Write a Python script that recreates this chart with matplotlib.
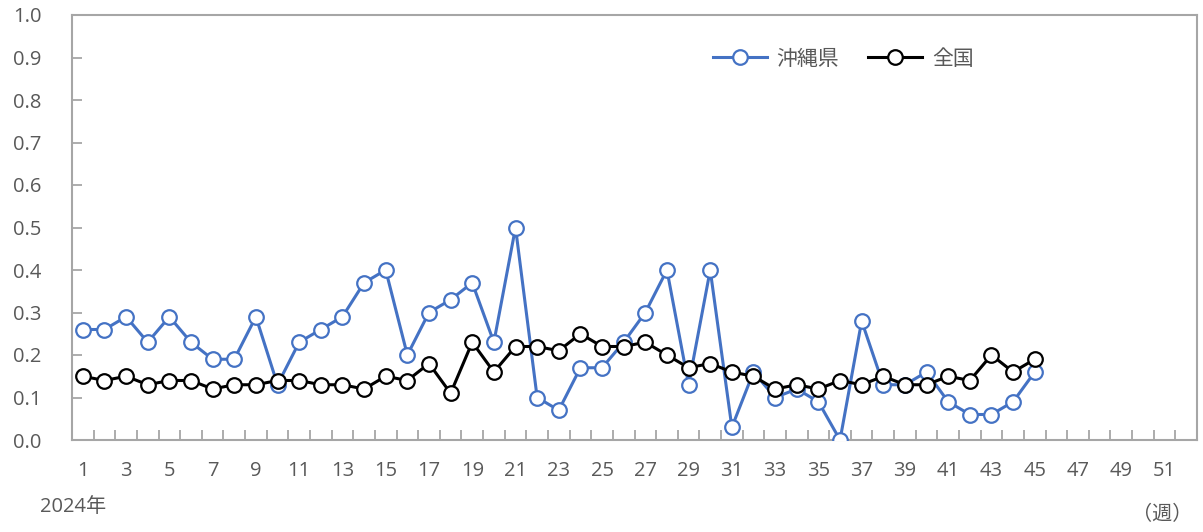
import matplotlib
matplotlib.use('Agg')
import matplotlib.pyplot as plt
from matplotlib.ticker import FixedLocator

plt.rcParams['font.family'] = ['Open Sans', 'Noto Sans CJK JP', 'DejaVu Sans']

weeks = list(range(1, 46))
okinawa = [0.26, 0.26, 0.29, 0.23, 0.29, 0.23, 0.19, 0.19, 0.29, 0.13,
           0.23, 0.26, 0.29, 0.37, 0.40, 0.20, 0.30, 0.33, 0.37, 0.23,
           0.50, 0.10, 0.07, 0.17, 0.17, 0.23, 0.30, 0.40, 0.13, 0.40,
           0.03, 0.16, 0.10, 0.12, 0.09, 0.00, 0.28, 0.13, 0.13, 0.16,
           0.09, 0.06, 0.06, 0.09, 0.16]
national = [0.15, 0.14, 0.15, 0.13, 0.14, 0.14, 0.12, 0.13, 0.13, 0.14,
            0.14, 0.13, 0.13, 0.12, 0.15, 0.14, 0.18, 0.11, 0.23, 0.16,
            0.22, 0.22, 0.21, 0.25, 0.22, 0.22, 0.23, 0.20, 0.17, 0.18,
            0.16, 0.15, 0.12, 0.13, 0.12, 0.14, 0.13, 0.15, 0.13, 0.13,
            0.15, 0.14, 0.20, 0.16, 0.19]
tick_weeks = list(range(1, 53, 2))
y_ticks = [i / 10 for i in range(11)]

grey = '#A6A6A6'
txt = '#595959'

fig = plt.figure(figsize=(12.03, 5.32), dpi=100)
ax = fig.add_axes([72/1203, 1 - 440/532, 1125/1203, 425/532])

ax.plot(weeks, okinawa, color='#4472C4', lw=2.2, marker='o', ms=10.5,
        mfc='white', mec='#4472C4', mew=1.6, label='沖縄県', zorder=3)
ax.plot(weeks, national, color='black', lw=2.2, marker='o', ms=10.5,
        mfc='white', mec='black', mew=1.6, label='全国', zorder=4)

ax.set_xlim(0.5, 52.5)
ax.set_ylim(0, 1.0)
ax.yaxis.set_major_locator(FixedLocator(y_ticks))
ax.set_yticklabels([f'{v:.1f}' for v in y_ticks])
ax.xaxis.set_major_locator(FixedLocator(tick_weeks))
ax.set_xticklabels([str(w) for w in tick_weeks])
ax.xaxis.set_minor_locator(FixedLocator([w + 0.5 for w in range(0, 53)]))

for s in ax.spines.values():
    s.set_color(grey)
    s.set_linewidth(1.5)

ax.tick_params(axis='x', which='major', length=0, pad=15, labelsize=14.5, labelcolor=txt)
ax.tick_params(axis='x', which='minor', direction='in', length=7, width=1.3, color=grey)
ax.tick_params(axis='y', which='major', direction='in', length=7, width=1.3, color=grey,
               pad=22, labelsize=14.5, labelcolor=txt)

fig.text(40/1203, 1 - 507/532, '2024年', fontsize=14.5, color=txt, ha='left', va='center')
fig.text(1192/1203, 1 - 515/532, '（週）', fontsize=14.5, color=txt, ha='right', va='center')

leg = ax.legend(loc='upper left', bbox_to_anchor=(0.553, 0.965), ncol=2, frameon=False,
                fontsize=15, handlelength=2.6, columnspacing=1.4, handletextpad=0.45)
for t in leg.get_texts():
    t.set_color(txt)

fig.savefig('out.png', dpi=100)
